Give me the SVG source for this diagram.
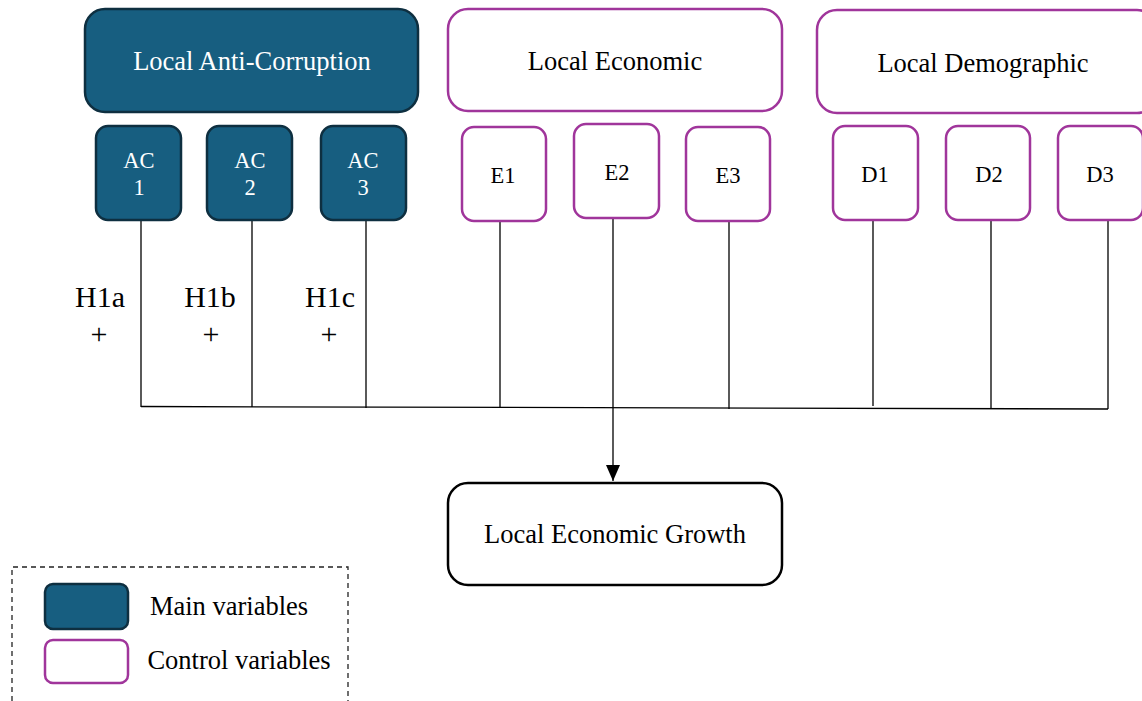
<svg xmlns="http://www.w3.org/2000/svg" width="1142" height="701" viewBox="0 0 1142 701">
<defs>
<style>
.main{fill:#175e80;stroke:#0e2f40;stroke-width:2.5}
.ctrl{fill:#fff;stroke:#a0359b;stroke-width:2.5}
.out{fill:#fff;stroke:#000;stroke-width:2.5}
text{font-family:"Liberation Serif","Times New Roman",serif;text-anchor:middle}
.t{font-size:26.5px}
.s{font-size:22.5px}
.w{fill:#fff}
.k{fill:#000}
.h{font-size:30px;fill:#000}
.p{font-size:30px;fill:#000}
.ln{stroke:#000;stroke-width:1.3;fill:none}
</style>
<marker id="arr" viewBox="0 0 16 14" refX="16" refY="7" markerWidth="16" markerHeight="14" markerUnits="userSpaceOnUse" orient="auto">
<path d="M0,0 L16,7 L0,14 Z" fill="#000"/>
</marker>
</defs>
<rect width="1142" height="701" fill="#fff"/>
<g id="connectors">
<line class="ln" x1="141" y1="220" x2="141" y2="407"/>
<line class="ln" x1="252" y1="220" x2="252" y2="407"/>
<line class="ln" x1="366" y1="220" x2="366" y2="408"/>
<line class="ln" x1="500" y1="221" x2="500" y2="408"/>
<line class="ln" x1="729" y1="221" x2="729" y2="409"/>
<line class="ln" x1="873" y1="220" x2="873" y2="406"/>
<line class="ln" x1="991" y1="220" x2="991" y2="408"/>
<line class="ln" x1="1108" y1="220" x2="1108" y2="409"/>
<line class="ln" x1="141" y1="406.5" x2="1108" y2="409"/>
<line class="ln" x1="613" y1="218" x2="613" y2="481" marker-end="url(#arr)"/>
</g>
<g id="local-anti-corruption">
<rect class="main" x="85" y="9" width="333" height="103" rx="20"/>
<text class="t w" x="252" y="70">Local Anti-Corruption</text>
</g>
<g id="ac1">
<rect class="main" x="96" y="126" width="85" height="94" rx="12"/>
<text class="s w" x="139" y="168">AC</text>
<text class="s w" x="139" y="195">1</text>
</g>
<g id="ac2">
<rect class="main" x="207" y="126" width="85" height="94" rx="12"/>
<text class="s w" x="250" y="168">AC</text>
<text class="s w" x="250" y="195">2</text>
</g>
<g id="ac3">
<rect class="main" x="321" y="126" width="85" height="94" rx="12"/>
<text class="s w" x="363" y="168">AC</text>
<text class="s w" x="363" y="195">3</text>
</g>
<g id="local-economic">
<rect class="ctrl" x="448" y="9" width="334" height="102" rx="20"/>
<text class="t k" x="615" y="70">Local Economic</text>
</g>
<g id="e1">
<rect class="ctrl" x="462" y="127" width="84" height="94" rx="12"/>
<text class="s k" x="503" y="183">E1</text>
</g>
<g id="e2">
<rect class="ctrl" x="574" y="124" width="85" height="94" rx="12"/>
<text class="s k" x="617" y="180">E2</text>
</g>
<g id="e3">
<rect class="ctrl" x="686" y="127" width="84" height="94" rx="12"/>
<text class="s k" x="728" y="183">E3</text>
</g>
<g id="local-demographic">
<rect class="ctrl" x="817" y="10" width="340" height="103" rx="20"/>
<text class="t k" x="983" y="72">Local Demographic</text>
</g>
<g id="d1">
<rect class="ctrl" x="833" y="126" width="85" height="94" rx="12"/>
<text class="s k" x="875" y="182">D1</text>
</g>
<g id="d2">
<rect class="ctrl" x="946" y="126" width="84" height="94" rx="12"/>
<text class="s k" x="989" y="182">D2</text>
</g>
<g id="d3">
<rect class="ctrl" x="1058" y="126" width="85" height="94" rx="12"/>
<text class="s k" x="1100" y="182">D3</text>
</g>
<g id="hypotheses">
<text class="h" x="100" y="307">H1a</text>
<text class="p" x="99" y="344">+</text>
<text class="h" x="210" y="307">H1b</text>
<text class="p" x="211" y="344">+</text>
<text class="h" x="330" y="307">H1c</text>
<text class="p" x="329" y="344">+</text>
</g>
<g id="local-economic-growth">
<rect class="out" x="448" y="483" width="334" height="102" rx="20"/>
<text class="t k" x="615" y="543">Local Economic Growth</text>
</g>
<g id="legend">
<path d="M12,701 L12,567 L348,567 L348,701" fill="none" stroke="#222" stroke-width="1.3" stroke-dasharray="5,4"/>
<rect class="main" x="45" y="584" width="83" height="45" rx="8"/>
<rect class="ctrl" x="45" y="640" width="83" height="43" rx="8"/>
<text class="t k" x="229" y="615">Main variables</text>
<text class="t k" x="239" y="669">Control variables</text>
</g>
</svg>
